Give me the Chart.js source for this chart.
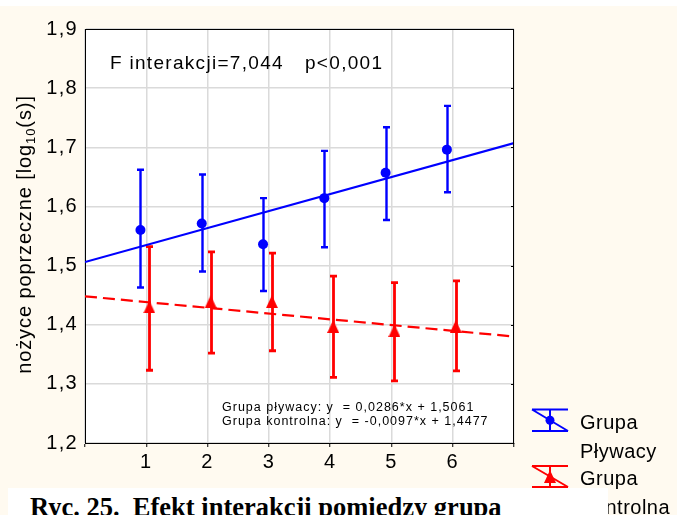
<!DOCTYPE html>
<html><head><meta charset="utf-8">
<script src="https://cdn.jsdelivr.net/npm/chart.js@4.4.1/dist/chart.umd.min.js"></script>
<style>
html,body{margin:0;padding:0;background:#FFFAF0;overflow:hidden;}
#wrap{position:relative;width:677px;height:515px;}
canvas{position:absolute;left:0;top:0;}
#cap{position:absolute;left:8px;top:488px;width:600px;height:27px;background:#fff;font-family:"Liberation Serif","Times New Roman",serif;font-weight:bold;font-size:26.5px;line-height:30px;padding-top:4px;padding-left:22px;box-sizing:border-box;white-space:nowrap;overflow:hidden;color:#000;}
</style></head><body>
<div id="wrap"><canvas id="c" width="677" height="515"></canvas>
<div id="cap">Ryc. 25.&nbsp; Efekt interakcji pomiedzy grupa</div></div>
<script>
// ---- data ----
const categories = [1, 2, 3, 4, 5, 6];
const plywacyMean = [1.560, 1.571, 1.536, 1.614, 1.657, 1.696];
const plywacyLow  = [1.463, 1.490, 1.457, 1.531, 1.577, 1.624];
const plywacyHigh = [1.662, 1.654, 1.614, 1.694, 1.734, 1.770];
const kontrolnaMean = [1.430, 1.439, 1.439, 1.397, 1.390, 1.397];
const kontrolnaLow  = [1.323, 1.352, 1.356, 1.311, 1.305, 1.322];
const kontrolnaHigh = [1.532, 1.523, 1.521, 1.482, 1.471, 1.474];
const fitX = [0, 7];
const plywacyFit = [1.506, 1.707];
const kontrolnaFit = [1.448, 1.380];
const xTickLabels = ['1', '2', '3', '4', '5', '6'];
const titleLeft = 'F interakcji=7,044';
const titleRight = 'p<0,001';
const eqLines = ['Grupa pływacy: y  = 0,0286*x + 1,5061', 'Grupa kontrolna: y  = -0,0097*x + 1,4477'];
const legendNames = [['Grupa', 'Pływacy'], ['Grupa', 'Kontrolna']];
const yTitle = ['nożyce poprzeczne [log', '10', '(s)]'];

const BLUE = '#0000FF', RED = '#FF0000';
const offBlue = -0.095, offRed = 0.05;
const FONT = '"Liberation Sans", Arial, sans-serif';

const tri = document.createElement('canvas');
tri.width = 12; tri.height = 13;
(function(){ const t = tri.getContext('2d'); t.fillStyle = RED; t.beginPath(); t.moveTo(6,0); t.lineTo(12,13); t.lineTo(0,13); t.closePath(); t.fill(); })();

const pts = (xs, ys, off) => xs.map((v, i) => ({x: v + off, y: ys[i]}));

const TICK_SP = '1.3px';
const spacing = {
  id: 'spacing',
  beforeUpdate(c){ c.ctx.letterSpacing = TICK_SP; },
  beforeLayout(c){ c.ctx.letterSpacing = TICK_SP; },
  beforeDraw(c){ c.ctx.letterSpacing = TICK_SP; }
};

const bg = {
  id: 'bg',
  beforeDraw(c){
    const ctx = c.ctx, a = c.chartArea;
    ctx.save();
    ctx.fillStyle = '#FFFAF0'; ctx.fillRect(0, 0, c.width, c.height);
    ctx.fillStyle = '#FFFFFF'; ctx.fillRect(0, 0, c.width, 6);
    ctx.fillRect(a.left, a.top, a.right - a.left, a.bottom - a.top);
    ctx.restore();
  }
};

const errorBars = {
  id: 'errorBars',
  beforeDatasetsDraw(c){
    const ctx = c.ctx, x = c.scales.x, y = c.scales.y;
    const draw = (off, lo, hi, col, lw) => {
      ctx.save();
      ctx.strokeStyle = col; ctx.lineWidth = lw;
      categories.forEach((cat, i) => {
        const px = Math.round(x.getPixelForValue(cat + off)) + 0.5;
        const py1 = y.getPixelForValue(lo[i]), py2 = y.getPixelForValue(hi[i]);
        ctx.beginPath();
        ctx.moveTo(px, py1); ctx.lineTo(px, py2);
        ctx.moveTo(px - 3.5, py1); ctx.lineTo(px + 3.5, py1);
        ctx.moveTo(px - 3.5, py2); ctx.lineTo(px + 3.5, py2);
        ctx.stroke();
      });
      ctx.restore();
    };
    draw(offBlue, plywacyLow, plywacyHigh, BLUE, 2.4);
    draw(offRed, kontrolnaLow, kontrolnaHigh, RED, 2.8);
  }
};

const frame = {
  id: 'frame',
  afterDraw(c){
    const ctx = c.ctx, a = c.chartArea, y = c.scales.y;
    ctx.save();
    ctx.strokeStyle = '#000'; ctx.lineWidth = 1;
    ctx.beginPath();
    ctx.moveTo(a.left, a.top + 0.5); ctx.lineTo(a.right, a.top + 0.5);
    ctx.moveTo(a.right - 0.5, a.top); ctx.lineTo(a.right - 0.5, a.bottom);
    y.ticks.forEach(t => {
      const py = Math.round(y.getPixelForValue(t.value)) + 0.5;
      ctx.moveTo(a.right - 3, py); ctx.lineTo(a.right, py);
    });
    ctx.stroke();

    // annotation texts
    ctx.fillStyle = '#000';
    ctx.textBaseline = 'alphabetic'; ctx.textAlign = 'left';
    ctx.font = '19px ' + FONT; ctx.letterSpacing = '1.3px';
    ctx.fillText(titleLeft, 110, 69);
    ctx.fillText(titleRight, 305, 69);
    ctx.font = '12.5px ' + FONT; ctx.letterSpacing = '1px';
    ctx.fillText(eqLines[0], 222, 411);
    ctx.fillText(eqLines[1], 222, 425);

    // legend
    const sym = (top, bot, col, marker) => {
      ctx.strokeStyle = col; ctx.lineWidth = 2;
      ctx.beginPath();
      ctx.moveTo(532, top); ctx.lineTo(568, top);
      ctx.moveTo(532, bot); ctx.lineTo(568, bot);
      ctx.moveTo(550, top); ctx.lineTo(550, bot);
      ctx.moveTo(532, top); ctx.lineTo(568, bot);
      ctx.stroke();
      marker((top + bot) / 2);
    };
    sym(409.5, 431, BLUE, cy => { ctx.fillStyle = BLUE; ctx.beginPath(); ctx.arc(550, cy, 4.5, 0, Math.PI * 2); ctx.fill(); });
    sym(466, 487, RED, cy => { ctx.drawImage(tri, 544, cy - 6.5); });
    ctx.fillStyle = '#000';
    ctx.font = '20px ' + FONT; ctx.letterSpacing = '0.5px';
    ctx.fillText(legendNames[0][0], 580, 429);
    ctx.fillText(legendNames[0][1], 580, 457.5);
    ctx.fillText(legendNames[1][0], 580, 484.5);
    ctx.fillText(legendNames[1][1], 580, 513.5);

    // y axis title with subscript
    ctx.translate(31, 234.5);
    ctx.rotate(-Math.PI / 2);
    ctx.letterSpacing = '0.9px';
    ctx.font = '20px ' + FONT; const w1 = ctx.measureText(yTitle[0]).width;
    const w3 = ctx.measureText(yTitle[2]).width;
    ctx.font = '13px ' + FONT; const w2 = ctx.measureText(yTitle[1]).width;
    let sx = -(w1 + w2 + w3) / 2;
    ctx.font = '20px ' + FONT; ctx.fillText(yTitle[0], sx, 0); sx += w1;
    ctx.font = '13px ' + FONT; ctx.fillText(yTitle[1], sx, 4); sx += w2;
    ctx.font = '20px ' + FONT; ctx.fillText(yTitle[2], sx, 0);
    ctx.restore();
  }
};

new Chart(document.getElementById('c'), {
  data: {
    datasets: [
      { type: 'scatter', label: 'Grupa Pływacy', data: pts(categories, plywacyMean, offBlue),
        pointStyle: 'circle', pointRadius: 5, pointHoverRadius: 5, backgroundColor: BLUE, borderWidth: 0, order: 1 },
      { type: 'scatter', label: 'Grupa Kontrolna', data: pts(categories, kontrolnaMean, offRed),
        pointStyle: tri, pointRadius: 6, backgroundColor: RED, borderWidth: 0, order: 2 },
      { type: 'line', label: 'fit pływacy', data: pts(fitX, plywacyFit, 0), borderColor: BLUE, borderWidth: 2.2,
        pointRadius: 0, fill: false, order: 3 },
      { type: 'line', label: 'fit kontrolna', data: pts(fitX, kontrolnaFit, 0), borderColor: RED, borderWidth: 2.2,
        borderDash: [12, 6], pointRadius: 0, fill: false, order: 4 }
    ]
  },
  options: {
    responsive: false, animation: false, events: [],
    layout: { padding: { left: 0, top: 29, right: 163, bottom: 0 } },
    plugins: { legend: { display: false }, tooltip: { enabled: false }, title: { display: false } },
    scales: {
      x: {
        type: 'linear', min: 0, max: 7,
        afterFit: s => { s.height = 72; },
        ticks: { stepSize: 1, color: '#000', padding: 3, font: { family: FONT, size: 20 },
          callback: v => (v >= 1 && v <= 6) ? xTickLabels[v - 1] : '' },
        grid: { color: '#DADADA', lineWidth: 1.5, tickLength: 4, tickColor: '#000', tickWidth: 1 },
        border: { display: true, color: '#000', width: 1 }
      },
      y: {
        type: 'linear', min: 1.2, max: 1.9,
        afterFit: s => { s.width = 85; },
        ticks: { stepSize: 0.1, color: '#000', padding: 7, font: { family: FONT, size: 20 },
          callback: v => v.toFixed(1).replace('.', ',') },
        grid: { color: '#DADADA', lineWidth: 1.5, drawTicks: false },
        border: { display: true, color: '#000', width: 1 }
      }
    }
  },
  plugins: [spacing, bg, errorBars, frame]
});
</script></body></html>
